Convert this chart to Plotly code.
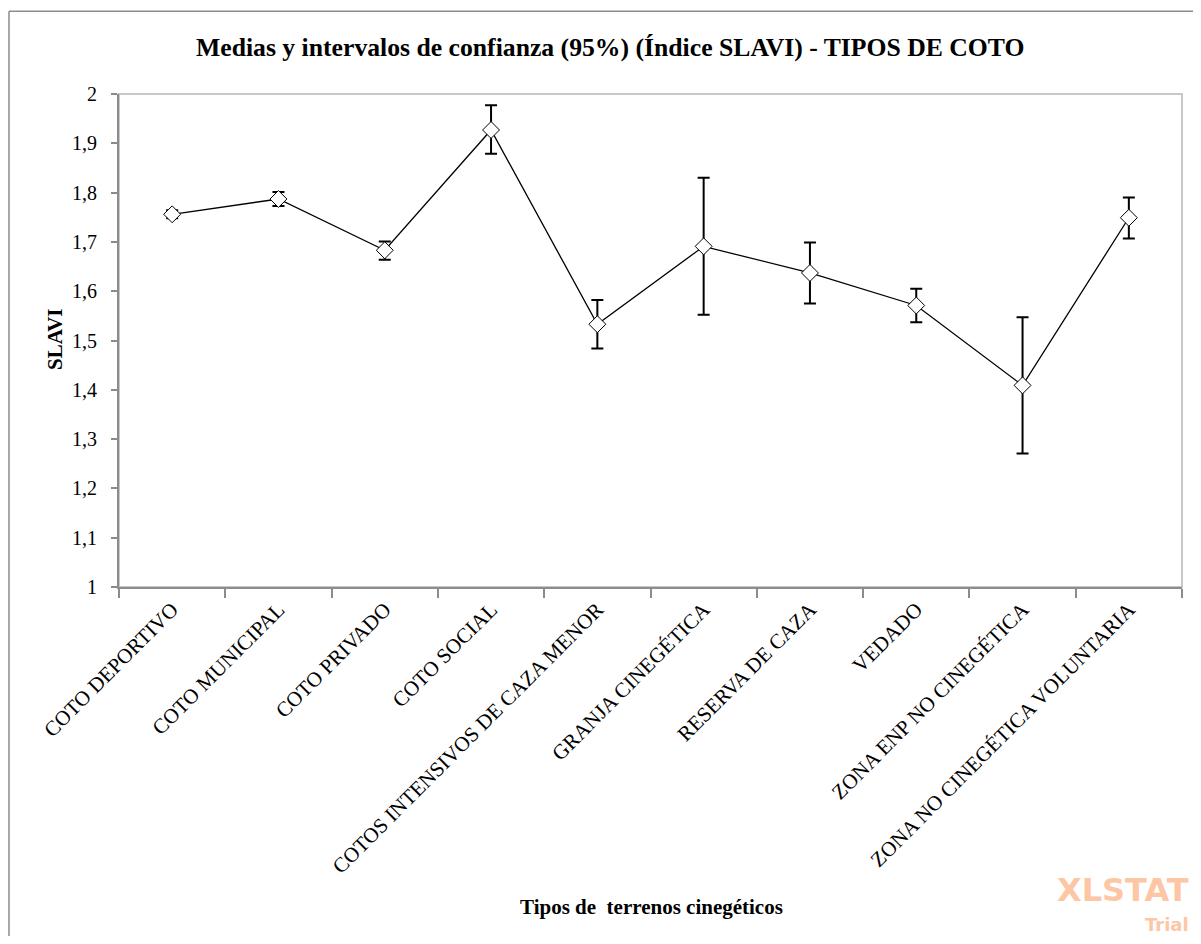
import plotly.graph_objects as go

# Datos
tipos = [
    "COTO DEPORTIVO",
    "COTO MUNICIPAL",
    "COTO PRIVADO",
    "COTO SOCIAL",
    "COTOS INTENSIVOS DE CAZA MENOR",
    "GRANJA CINEGÉTICA",
    "RESERVA DE CAZA",
    "VEDADO",
    "ZONA ENP NO CINEGÉTICA",
    "ZONA NO CINEGÉTICA VOLUNTARIA",
]
medias = [1.756, 1.787, 1.683, 1.927, 1.533, 1.691, 1.637, 1.571, 1.409, 1.749]
ic_sup = [1.764, 1.801, 1.701, 1.977, 1.582, 1.830, 1.699, 1.605, 1.547, 1.790]
ic_inf = [1.748, 1.773, 1.664, 1.879, 1.484, 1.552, 1.575, 1.537, 1.271, 1.707]

err_plus = [s - m for s, m in zip(ic_sup, medias)]
err_minus = [m - i for m, i in zip(medias, ic_inf)]

SERIF = "Liberation Serif, Times New Roman, serif"
WM_COLOR = "#fdc6a4"

fig = go.Figure()
fig.add_trace(go.Scatter(
    x=tipos,
    y=medias,
    mode="lines+markers",
    line=dict(color="black", width=1.3),
    marker=dict(symbol="diamond", size=13, color="white",
                line=dict(color="black", width=1)),
    error_y=dict(type="data", symmetric=False, array=err_plus,
                 arrayminus=err_minus, color="black", thickness=2, width=6),
    showlegend=False,
))

# marco del área de trazado (gris claro)
fig.add_shape(type="rect", xref="paper", yref="paper", x0=0, x1=1, y0=0, y1=1,
              line=dict(color="#c8c8c8", width=2), layer="below")
# borde exterior del gráfico (solo visible arriba y a la izquierda)
fig.add_shape(type="line", xref="paper", yref="paper", x0=-0.1035, x1=-0.1035,
              y0=-0.75, y1=1.168, line=dict(color="#8c8c8c", width=1.5), layer="below")
fig.add_shape(type="line", xref="paper", yref="paper", x0=-0.1035, x1=1.03,
              y0=1.168, y1=1.168, line=dict(color="#8c8c8c", width=1.5), layer="below")

fig.add_annotation(text="<b>Medias y intervalos de confianza (95%) (Índice SLAVI) - TIPOS DE COTO</b>",
                   xref="paper", yref="paper", x=0.4619, y=1.0953,
                   xanchor="center", yanchor="middle",
                   showarrow=False, font=dict(family=SERIF, size=25.7, color="black"))
fig.add_annotation(text="<b>Tipos de  terrenos cinegéticos</b>",
                   xref="paper", yref="paper", x=0.5005, y=-0.649,
                   xanchor="center", yanchor="middle",
                   showarrow=False, font=dict(family=SERIF, size=21, color="black"))
fig.add_annotation(text="<b>SLAVI</b>", textangle=-90,
                   xref="paper", yref="paper", x=-0.0602, y=0.501,
                   xanchor="center", yanchor="middle",
                   showarrow=False, font=dict(family=SERIF, size=21, color="black"))

# marca de agua
fig.add_annotation(text="<b>XLSTAT</b>", xref="paper", yref="paper",
                   x=1.0085, y=-0.6146, xanchor="right", yanchor="middle", showarrow=False,
                   font=dict(family="DejaVu Sans, sans-serif", size=32, color=WM_COLOR))
fig.add_annotation(text="<b>Trial</b>", xref="paper", yref="paper",
                   x=1.0085, y=-0.6836, xanchor="right", yanchor="middle", showarrow=False,
                   font=dict(family="DejaVu Sans, sans-serif", size=18, color=WM_COLOR))

fig.update_xaxes(
    range=[-0.5, 9.5],
    tickangle=-45,
    showline=True, linecolor="#8c8c8c", linewidth=2,
    ticks="outside", ticklen=9, tickcolor="#8c8c8c", tickwidth=2,
    tickson="boundaries",
    showgrid=False, zeroline=False,
    tickfont=dict(family=SERIF, size=21, color="black"),
)
fig.update_yaxes(
    range=[1, 2], dtick=0.1, tick0=1,
    showline=True, linecolor="#8c8c8c", linewidth=2,
    ticks="outside", ticklen=6, tickcolor="#8c8c8c", tickwidth=2,
    ticklabelstandoff=10,
    showgrid=False, zeroline=False,
    tickfont=dict(family=SERIF, size=20, color="black"),
)

# la página añade 8 px de margen al cuerpo: el gráfico cabe sin barras de desplazamiento
fig.update_layout(
    width=1185, height=928,
    margin=dict(l=111, r=11, t=86, b=349, pad=0),
    paper_bgcolor="white", plot_bgcolor="white",
    separators=",.",
)

fig.write_html("out.html")
